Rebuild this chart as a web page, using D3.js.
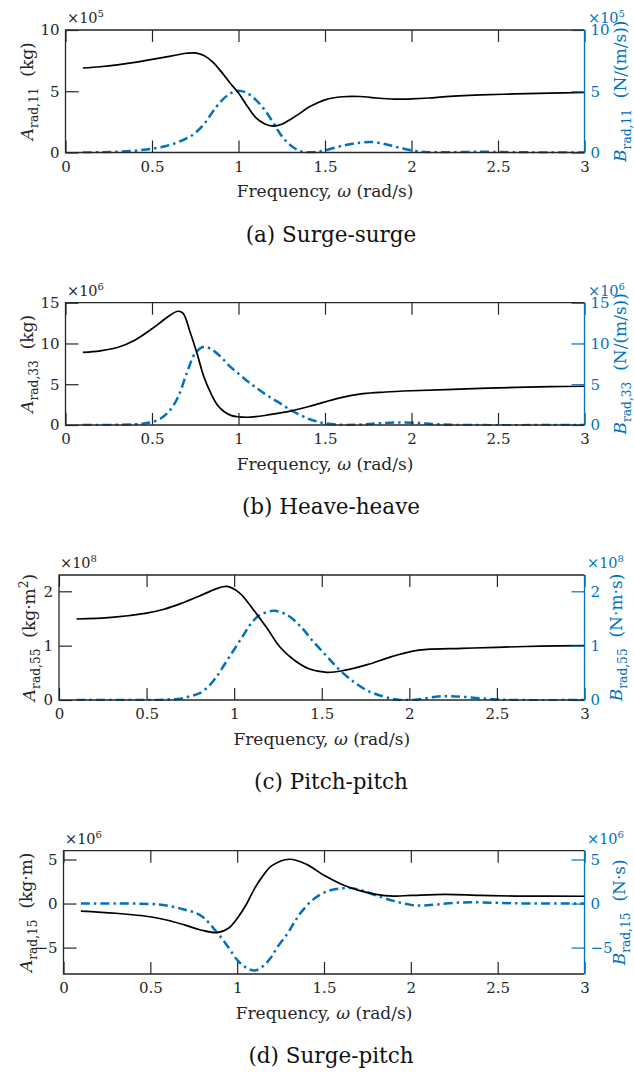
<!DOCTYPE html>
<html>
<head>
<meta charset="utf-8">
<script src="https://cdn.jsdelivr.net/npm/d3@7"></script>
<style>
  html, body { margin: 0; padding: 0; background: #fff; }
  svg { display: block; }
  text { font-family: "DejaVu Serif", serif; }
</style>
</head>
<body>
<svg id="fig" width="634" height="1075"></svg>
<script>
// Frequency ticks shared by every panel (rad/s)
const freqTicks = [0, 0.5, 1, 1.5, 2, 2.5, 3];

// (a) Surge-surge: added mass A11 (x1e5 kg) and damping B11 (x1e5 N/(m/s))
const surgeOmegaA = [0.1, 0.2, 0.3, 0.4, 0.5, 0.6, 0.65, 0.7, 0.75, 0.8, 0.85, 0.9, 0.95, 1.0, 1.05, 1.1, 1.15, 1.2, 1.25, 1.3, 1.35, 1.4, 1.45, 1.5, 1.6, 1.7, 1.8, 1.9, 1.95, 2.0, 2.1, 2.2, 2.3, 2.4, 2.6, 2.8, 3.0];
const surgeA      = [6.9, 7.0, 7.15, 7.35, 7.6, 7.85, 7.98, 8.1, 8.13, 7.92, 7.4, 6.6, 5.7, 4.85, 3.8, 2.85, 2.35, 2.15, 2.3, 2.7, 3.15, 3.65, 4.0, 4.3, 4.55, 4.57, 4.45, 4.36, 4.35, 4.37, 4.45, 4.56, 4.64, 4.7, 4.78, 4.85, 4.9];
const surgeOmegaB = [0.1, 0.2, 0.3, 0.4, 0.5, 0.6, 0.7, 0.75, 0.8, 0.85, 0.9, 0.95, 1.0, 1.05, 1.1, 1.15, 1.2, 1.25, 1.3, 1.35, 1.4, 1.45, 1.5, 1.6, 1.7, 1.78, 1.85, 1.9, 1.95, 2.0, 2.05, 2.1, 2.2, 2.4, 2.6, 2.8, 3.0];
const surgeB      = [0, 0.02, 0.06, 0.15, 0.3, 0.6, 1.15, 1.6, 2.3, 3.3, 4.2, 4.8, 5.05, 4.85, 4.3, 3.5, 2.45, 1.35, 0.6, 0.15, 0.02, 0.05, 0.18, 0.55, 0.8, 0.85, 0.68, 0.5, 0.33, 0.18, 0.08, 0.03, 0.02, 0.06, 0.02, 0, 0];
const surgeTicks  = [0, 5, 10];

// (b) Heave-heave: A33 (x1e6 kg) and B33 (x1e6 N/(m/s))
const heaveOmegaA = [0.1, 0.2, 0.3, 0.4, 0.5, 0.55, 0.6, 0.65, 0.68, 0.72, 0.76, 0.8, 0.84, 0.88, 0.92, 0.96, 1.0, 1.05, 1.1, 1.16, 1.3, 1.43, 1.58, 1.72, 1.85, 2.0, 2.2, 2.5, 2.8, 3.0];
const heaveA      = [8.9, 9.1, 9.5, 10.4, 11.8, 12.6, 13.4, 13.95, 13.7, 11.4, 8.8, 5.9, 3.9, 2.4, 1.6, 1.15, 1.0, 0.95, 1.02, 1.2, 1.7, 2.4, 3.3, 3.85, 4.05, 4.2, 4.35, 4.55, 4.7, 4.75];
const heaveOmegaB = [0.1, 0.3, 0.4, 0.45, 0.5, 0.55, 0.6, 0.65, 0.7, 0.75, 0.8, 0.85, 0.9, 0.95, 1.0, 1.05, 1.1, 1.16, 1.23, 1.3, 1.35, 1.4, 1.45, 1.5, 1.6, 1.7, 1.8, 1.9, 1.95, 2.05, 2.15, 2.3, 3.0];
const heaveB      = [0, 0.02, 0.08, 0.18, 0.35, 0.8, 1.7, 3.4, 6.3, 8.8, 9.6, 9.2, 8.3, 7.2, 6.3, 5.4, 4.6, 3.7, 2.8, 1.85, 1.3, 0.8, 0.45, 0.2, 0.02, 0.05, 0.2, 0.3, 0.32, 0.25, 0.08, 0, 0];
const heaveTicks  = [0, 5, 10, 15];

// (c) Pitch-pitch: A55 (x1e8 kg m^2) and B55 (x1e8 N m s)
const pitchOmegaA = [0.1, 0.3, 0.5, 0.6, 0.7, 0.8, 0.9, 0.96, 1.03, 1.11, 1.19, 1.26, 1.34, 1.43, 1.53, 1.62, 1.76, 1.89, 2.02, 2.1, 2.3, 2.5, 2.75, 3.0];
const pitchA      = [1.49, 1.52, 1.6, 1.67, 1.78, 1.91, 2.05, 2.09, 1.97, 1.66, 1.31, 0.98, 0.74, 0.57, 0.51, 0.54, 0.65, 0.79, 0.9, 0.93, 0.95, 0.97, 0.99, 1.0];
const pitchOmegaB = [0.1, 0.5, 0.6, 0.7, 0.75, 0.8, 0.85, 0.9, 0.95, 1.0, 1.05, 1.09, 1.14, 1.19, 1.23, 1.3, 1.38, 1.45, 1.53, 1.6, 1.68, 1.75, 1.8, 1.89, 1.95, 2.05, 2.15, 2.22, 2.3, 2.45, 2.6, 3.0];
const pitchB      = [0, 0, 0.005, 0.03, 0.07, 0.12, 0.24, 0.43, 0.68, 0.93, 1.18, 1.38, 1.55, 1.62, 1.64, 1.57, 1.35, 1.08, 0.8, 0.56, 0.34, 0.19, 0.12, 0.03, 0, 0.01, 0.06, 0.07, 0.06, 0.02, 0, 0];
const pitchTicks  = [0, 1, 2];

// (d) Surge-pitch: A15 (x1e6 kg m) and B15 (x1e6 N s)
const couplOmegaA = [0.1, 0.3, 0.5, 0.6, 0.7, 0.79, 0.885, 0.95, 1.0, 1.05, 1.1, 1.15, 1.2, 1.3, 1.4, 1.5, 1.6, 1.7, 1.8, 1.9, 2.0, 2.2, 2.4, 2.6, 3.0];
const couplA      = [-0.85, -1.1, -1.5, -1.9, -2.45, -3.0, -3.3, -2.8, -1.7, -0.2, 1.7, 3.2, 4.3, 5.03, 4.45, 3.2, 2.2, 1.5, 1.05, 0.85, 0.92, 1.05, 0.92, 0.85, 0.83];
const couplOmegaB = [0.1, 0.3, 0.5, 0.6, 0.7, 0.79, 0.885, 0.95, 1.0, 1.05, 1.1, 1.15, 1.19, 1.23, 1.29, 1.33, 1.37, 1.44, 1.52, 1.6, 1.66, 1.72, 1.79, 1.9, 2.0, 2.07, 2.15, 2.25, 2.35, 2.5, 2.7, 3.0];
const couplB      = [0, 0, -0.05, -0.25, -0.7, -1.35, -3.3, -5.0, -6.4, -7.25, -7.6, -7.1, -6.25, -5.0, -3.4, -2.1, -0.95, 0.5, 1.4, 1.72, 1.75, 1.5, 1.0, 0.3, -0.15, -0.22, -0.1, 0.08, 0.15, 0.08, 0, 0];
const couplTicks  = [-5, 0, 5];

const BLUE = "#0072BD";
const INK = "#262626";

const panels = [
  { key: "a", l: 65.5, r: 584.5, t: 30, b: 152.5, yDomain: [0, 10], ticks: surgeTicks,
    omegaA: surgeOmegaA, A: surgeA, omegaB: surgeOmegaB, B: surgeB, exp: "5",
    expLx: 67, expRx: 588, labLx: 33, labRx: 626,
    left:  [["A", "it"], ["rad,11", "sub"], ["  (kg)", ""]],
    right: [["B", "it"], ["rad,11", "sub"], ["  (N/(m/s))", ""]],
    caption: "(a) Surge-surge" },
  { key: "b", l: 65.5, r: 584.5, t: 302.7, b: 425, yDomain: [0, 15], ticks: heaveTicks,
    omegaA: heaveOmegaA, A: heaveA, omegaB: heaveOmegaB, B: heaveB, exp: "6",
    expLx: 67, expRx: 588, labLx: 33, labRx: 626,
    left:  [["A", "it"], ["rad,33", "sub"], ["  (kg)", ""]],
    right: [["B", "it"], ["rad,33", "sub"], ["  (N/(m/s))", ""]],
    caption: "(b) Heave-heave" },
  { key: "c", l: 59, r: 584.5, t: 575, b: 700, yDomain: [0, 2.3], ticks: pitchTicks,
    omegaA: pitchOmegaA, A: pitchA, omegaB: pitchOmegaB, B: pitchB, exp: "8",
    expLx: 60, expRx: 587, labLx: 35, labRx: 622,
    left:  [["A", "it"], ["rad,55", "sub"], ["  (kg·m", ""], ["2", "sup"], [")", ""]],
    right: [["B", "it"], ["rad,55", "sub"], ["  (N·m·s)", ""]],
    caption: "(c) Pitch-pitch" },
  { key: "d", l: 63.5, r: 584.5, t: 850.7, b: 974, yDomain: [-8, 6], ticks: couplTicks,
    omegaA: couplOmegaA, A: couplA, omegaB: couplOmegaB, B: couplB, exp: "6",
    expLx: 65, expRx: 587, labLx: 32, labRx: 625,
    left:  [["A", "it"], ["rad,15", "sub"], ["  (kg·m)", ""]],
    right: [["B", "it"], ["rad,15", "sub"], ["  (N·s)", ""]],
    caption: "(d) Surge-pitch" }
];

const svg = d3.select("#fig");
svg.append("rect").attr("width", 634).attr("height", 1075).attr("fill", "#fff");

// Rich label: italic symbol, roman subscript, superscripts
function richText(sel, parts, size) {
  let shift = 0;
  parts.forEach(([txt, kind]) => {
    const ts = sel.append("tspan").text(txt).attr("xml:space", "preserve");
    let target = 0, fs = size;
    if (kind === "it") ts.attr("font-style", "italic");
    if (kind === "sub") { target = 0.3 * size; fs = size * 0.72; }
    if (kind === "sup") { target = -0.4 * size; fs = size * 0.72; }
    ts.attr("font-size", fs).attr("dy", target - shift);
    shift = target;
  });
}

function drawPanel(p) {
  const x = d3.scaleLinear().domain([0, 3]).range([p.l, p.r]);
  const y = d3.scaleLinear().domain(p.yDomain).range([p.b, p.t]);
  const g = svg.append("g").attr("class", "panel-" + p.key);

  const clipId = "clip-" + p.key;
  svg.append("clipPath").attr("id", clipId)
    .append("rect").attr("x", p.l).attr("y", p.t - 2)
    .attr("width", p.r - p.l).attr("height", p.b - p.t + 3);

  const line = d3.line().x(d => x(d[0])).y(d => y(d[1])).curve(d3.curveCatmullRom.alpha(0.5));
  const plot = g.append("g").attr("clip-path", `url(#${clipId})`);
  plot.append("path").datum(d3.zip(p.omegaB, p.B))
    .attr("d", line).attr("fill", "none").attr("stroke", BLUE)
    .attr("stroke-width", 2.5).attr("stroke-dasharray", "9,4,2.5,4");
  plot.append("path").datum(d3.zip(p.omegaA, p.A))
    .attr("d", line).attr("fill", "none").attr("stroke", "#000")
    .attr("stroke-width", 1.7);

  const styleAxis = (ax, color) => {
    ax.attr("color", color).attr("font-family", null).attr("font-size", null);
    ax.select(".domain").remove();
    ax.selectAll(".tick line").attr("stroke-width", 1.2);
    ax.selectAll(".tick text").attr("font-size", 15).attr("fill", color)
      .style("font-family", "'DejaVu Serif', serif");
  };

  const fmt = d3.format("");
  const bottom = g.append("g").attr("transform", `translate(0,${p.b})`)
    .call(d3.axisBottom(x).tickValues(freqTicks).tickSize(-12).tickSizeOuter(0).tickPadding(8.5).tickFormat(fmt));
  styleAxis(bottom, INK);
  const top = g.append("g").attr("transform", `translate(0,${p.t})`)
    .call(d3.axisTop(x).tickValues(freqTicks).tickSize(-12).tickSizeOuter(0).tickFormat(""));
  styleAxis(top, INK);
  const left = g.append("g").attr("transform", `translate(${p.l},0)`)
    .call(d3.axisLeft(y).tickValues(p.ticks).tickSize(-13).tickSizeOuter(0).tickPadding(6).tickFormat(fmt));
  styleAxis(left, INK);
  const right = g.append("g").attr("transform", `translate(${p.r},0)`)
    .call(d3.axisRight(y).tickValues(p.ticks).tickSize(-13).tickSizeOuter(0).tickPadding(6).tickFormat(fmt));
  styleAxis(right, BLUE);

  // axes box: black on three sides, blue on the right
  const box = g.append("g").attr("stroke-width", 1.3).attr("fill", "none");
  box.append("path").attr("d", `M${p.r},${p.t}H${p.l}V${p.b}H${p.r}`).attr("stroke", INK);
  box.append("line").attr("x1", p.r).attr("x2", p.r).attr("y1", p.t).attr("y2", p.b).attr("stroke", BLUE);

  // exponent multipliers
  [[p.expLx, INK], [p.expRx, BLUE]].forEach(([ex, col]) => {
    const t = g.append("text").attr("x", ex).attr("y", p.t - 7).attr("fill", col).attr("font-size", 14.5);
    t.append("tspan").text("×10");
    t.append("tspan").text(p.exp).attr("font-size", 10).attr("dy", -6);
  });

  // axis labels
  const midY = (p.t + p.b) / 2;
  const ll = g.append("text").attr("transform", `translate(${p.labLx},${midY}) rotate(-90)`)
    .attr("text-anchor", "middle").attr("fill", INK).attr("font-size", 17);
  richText(ll, p.left, 17);
  const rl = g.append("text").attr("transform", `translate(${p.labRx},${midY}) rotate(-90)`)
    .attr("text-anchor", "middle").attr("fill", BLUE).attr("font-size", 17);
  richText(rl, p.right, 17);

  const xl = g.append("text").attr("x", (p.l + p.r) / 2).attr("y", p.b + 44.5)
    .attr("text-anchor", "middle").attr("fill", INK).attr("font-size", 17);
  richText(xl, [["Frequency, ", ""], ["ω", "it"], [" (rad/s)", ""]], 17);

  g.append("text").attr("x", 331).attr("y", p.b + 89)
    .attr("text-anchor", "middle").attr("fill", "#111").attr("font-size", 21.5)
    .text(p.caption);
}

panels.forEach(drawPanel);
</script>
</body>
</html>
